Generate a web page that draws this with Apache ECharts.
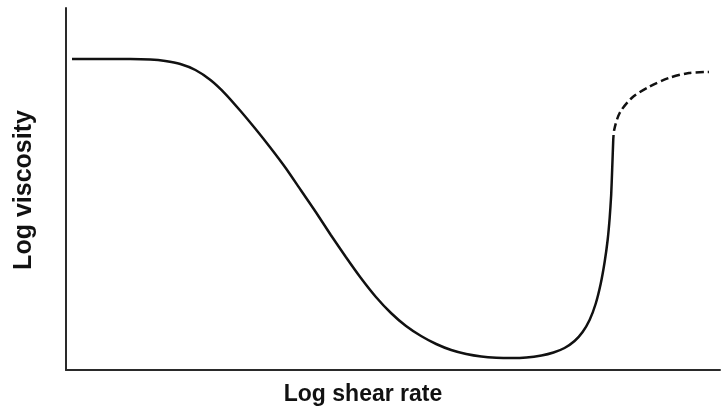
<!DOCTYPE html>
<html>
<head>
<meta charset="utf-8">
<script src="https://cdn.jsdelivr.net/npm/echarts@6/dist/echarts.min.js"></script>
<style>
  html, body { margin: 0; padding: 0; background: #fff; }
  #chart { width: 721px; height: 414px; }
</style>
</head>
<body>
<div id="chart"></div>
<script>
// Viscosity vs shear rate (log-log, arbitrary units 0-100):
// Newtonian plateau, shear thinning, then abrupt shear thickening.
var shearRate = [0.92, 5.21, 9.82, 12.88, 15.18, 17.48, 19.79, 22.09, 24.39, 26.69,
                 28.99, 31.29, 33.59, 35.89, 38.19, 40.49, 42.79, 45.09, 47.39, 49.69,
                 51.99, 54.29, 56.60, 58.90, 61.20, 63.50, 65.80, 68.10, 70.40, 72.70,
                 74.54, 76.23, 77.76, 78.99, 80.06, 80.98, 81.75, 82.36, 82.82, 83.13,
                 83.36, 83.51, 83.62, 83.66];
var viscosity = [85.91, 85.91, 85.91, 85.77, 85.36, 84.53, 82.87, 80.11, 76.24, 71.55,
                 66.57, 61.33, 55.80, 49.72, 43.65, 37.29, 31.22, 25.41, 20.17, 15.75,
                 12.15, 9.39, 7.18, 5.52, 4.42, 3.73, 3.40, 3.31, 3.45, 4.01,
                 4.83, 6.08, 8.01, 10.50, 13.81, 18.23, 23.76, 29.83, 35.91, 41.99,
                 48.34, 55.25, 60.77, 62.71];

// Extrapolated high-shear branch (dashed)
var shearRateExt = [83.66, 83.82, 84.66, 86.50, 89.11, 92.18, 95.25, 98.31];
var viscosityExt = [62.71, 66.30, 71.00, 75.14, 78.18, 80.66, 82.04, 82.32];

var xTitle = 'Log shear rate';
var yTitle = 'Log viscosity';

function pairs(xs, ys) {
  return xs.map(function (x, i) { return [x, ys[i]]; });
}

var chart = echarts.init(document.getElementById('chart'), null, { renderer: 'canvas' });

var plainAxis = {
  type: 'value',
  min: 0,
  max: 100,
  axisLine: { show: true, lineStyle: { color: '#2a2a2a', width: 2 } },
  axisTick: { show: false },
  axisLabel: { show: false },
  splitLine: { show: false }
};

chart.setOption({
  animation: false,
  backgroundColor: '#ffffff',
  grid: { left: 66, right: 1, top: 8, bottom: 44 },
  xAxis: Object.assign({}, plainAxis),
  yAxis: Object.assign({}, plainAxis),
  graphic: [
    {
      type: 'text',
      x: 363,
      y: 395,
      style: {
        text: xTitle,
        fill: '#111',
        font: 'bold 23px "Liberation Sans", Arial, sans-serif',
        align: 'center',
        verticalAlign: 'middle'
      }
    },
    {
      type: 'text',
      x: 24,
      y: 190,
      rotation: Math.PI / 2,
      style: {
        text: yTitle,
        fill: '#111',
        font: 'bold 25px "Liberation Sans", Arial, sans-serif',
        align: 'center',
        verticalAlign: 'middle'
      }
    }
  ],
  series: [
    {
      type: 'line',
      data: pairs(shearRate, viscosity),
      smooth: 0.2,
      showSymbol: false,
      lineStyle: { color: '#111', width: 2.5 }
    },
    {
      type: 'line',
      data: pairs(shearRateExt, viscosityExt),
      smooth: 0.3,
      showSymbol: false,
      lineStyle: { color: '#111', width: 2.5, type: [8, 4] }
    }
  ]
});
</script>
</body>
</html>
